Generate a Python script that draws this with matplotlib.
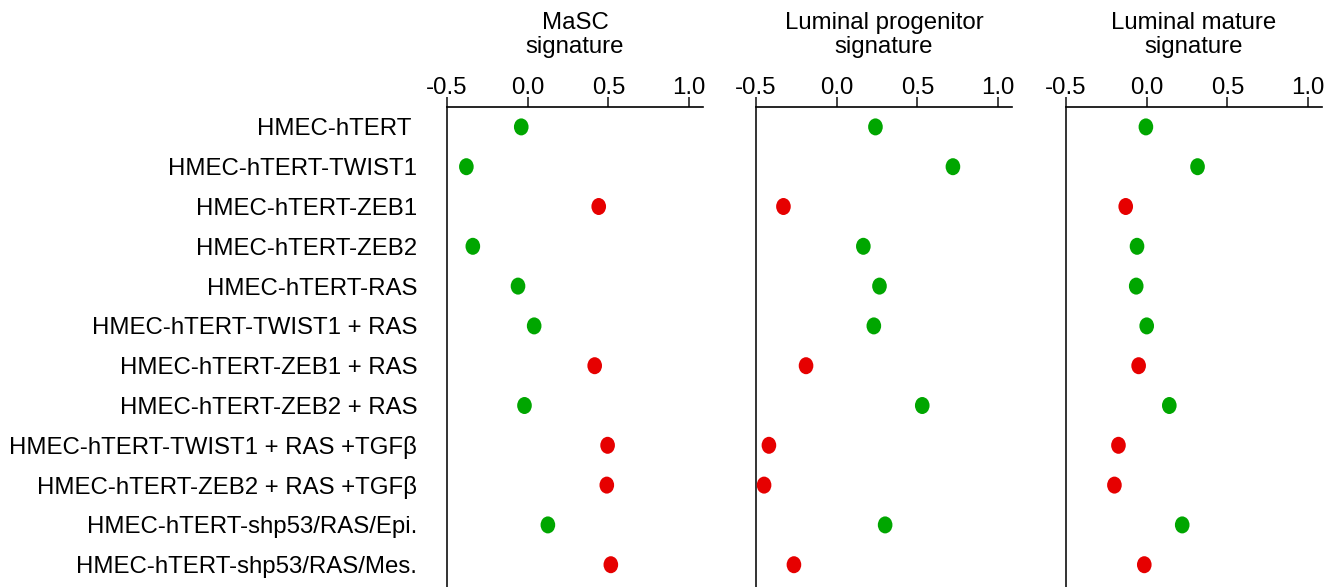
import matplotlib
matplotlib.use("Agg")
import matplotlib.pyplot as plt
from matplotlib.markers import MarkerStyle
from matplotlib.transforms import Affine2D

# row labels, top to bottom
cell_lines = [
    "HMEC-hTERT ",
    "HMEC-hTERT-TWIST1",
    "HMEC-hTERT-ZEB1",
    "HMEC-hTERT-ZEB2",
    "HMEC-hTERT-RAS",
    "HMEC-hTERT-TWIST1 + RAS",
    "HMEC-hTERT-ZEB1 + RAS",
    "HMEC-hTERT-ZEB2 + RAS",
    "HMEC-hTERT-TWIST1 + RAS +TGF\u03b2",
    "HMEC-hTERT-ZEB2 + RAS +TGF\u03b2",
    "HMEC-hTERT-shp53/RAS/Epi.",
    "HMEC-hTERT-shp53/RAS/Mes.",
]

panel_titles = ["MaSC\nsignature", "Luminal progenitor\nsignature", "Luminal mature\nsignature"]

masc = [-0.04, -0.38, 0.44, -0.34, -0.06, 0.04, 0.415, -0.02, 0.495, 0.49, 0.125, 0.515]
lum_prog = [0.24, 0.72, -0.33, 0.165, 0.265, 0.23, -0.19, 0.53, -0.42, -0.45, 0.30, -0.265]
lum_mature = [-0.005, 0.315, -0.13, -0.06, -0.065, 0.0, -0.05, 0.14, -0.175, -0.20, 0.22, -0.015]

# red = mesenchymal-like lines, green = epithelial-like
is_mes = [0, 0, 1, 0, 0, 0, 1, 0, 1, 1, 0, 1]

xticks = [-0.5, 0.0, 0.5, 1.0]
GREEN = "#00a600"
RED = "#e60000"
FS = 17.3

plt.rcParams["font.family"] = ["Liberation Sans", "DejaVu Sans"]

fig = plt.figure(figsize=(13.34, 5.87), dpi=100)
W, H = 1334.0, 587.0
lefts = [447, 756, 1066]
width = 256
top = 107

colors = [RED if m else GREEN for m in is_mes]
rows = list(range(len(cell_lines)))
# dots are slightly taller than wide
dot = MarkerStyle("o", transform=Affine2D().scale(0.86, 1.0))

for i, (vals, title) in enumerate(zip([masc, lum_prog, lum_mature], panel_titles)):
    ax = fig.add_axes([lefts[i] / W, 0.0, width / W, (H - top) / H])
    ax.scatter(vals, rows, s=150, c=colors, marker=dot, edgecolors="none", zorder=3)
    ax.set_xlim(-0.5, 1.086)
    ax.set_ylim(11.56, -0.5)
    ax.xaxis.tick_top()
    ax.set_xticks(xticks)
    ax.set_xticklabels(["%.1f" % t for t in xticks], fontsize=FS)
    ax.tick_params(axis="x", direction="out", length=7, width=1.2, pad=-1.3, color="#222222")
    ax.spines["bottom"].set_visible(False)
    ax.spines["right"].set_visible(False)
    ax.spines["top"].set_linewidth(1.2)
    ax.spines["left"].set_linewidth(1.4)
    ax.spines["left"].set_color("#333333")
    ax.annotate(title, xy=(0.5, 1.0), xycoords="axes fraction", xytext=(0, 35),
                textcoords="offset points", ha="center", va="bottom",
                fontsize=FS, linespacing=1.12)
    ax.set_yticks(rows)
    if i == 0:
        ax.set_yticklabels(cell_lines, fontsize=FS)
        ax.tick_params(axis="y", length=0, pad=21.5)
    else:
        ax.set_yticklabels([])
        ax.tick_params(axis="y", length=0)

fig.savefig("out.png", dpi=100)
